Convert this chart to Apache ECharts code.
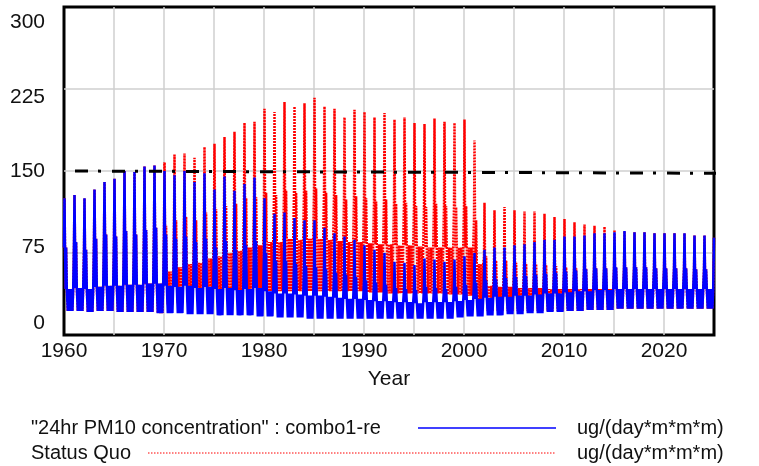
<!DOCTYPE html>
<html>
<head>
<meta charset="utf-8">
<script src="https://cdn.jsdelivr.net/npm/echarts@6/dist/echarts.min.js"></script>
<style>
html,body{margin:0;padding:0;background:#fff;}
#c{width:759px;height:466px;}
</style>
</head>
<body>
<div id="c"></div>
<script>
// ---- data ----
const years = [];
for (let y = 1960; y <= 2024; y++) years.push(y);

const xTickLabels = [1960, 1970, 1980, 1990, 2000, 2010, 2020];
const yTickLabels = [0, 75, 150, 225, 300];

// "24hr PM10 concentration" : combo1-re  (blue)
const bluePeak = [
  125,128,125,133,140,143,150,149,154,155,
  150,146,150,140,148,133,145,132,138,144,
  125,111,112,107,105,105,98,93,90,87,
  82,78,75,67,66,64,70,69,67,69,
  72,75,78,80,80,82,83,85,87,87,
  90,90,91,93,93,94,95,94,94,93,
  93,93,93,91,91];
const blueShoulder = [
  80,85,78,88,92,90,95,92,96,98,
  92,88,90,85,88,80,86,78,82,86,
  75,68,68,65,63,62,60,57,55,53,
  50,48,46,43,42,41,44,43,42,44,
  46,48,50,51,52,53,54,55,56,57,
  58,59,60,61,61,62,62,62,62,61,
  61,61,61,60,60];
const blueMid = [
  42,43,42,44,45,45,46,46,47,47,
  45,44,45,43,44,42,43,41,42,43,
  40,38,38,37,36,36,35,34,33,33,
  32,31,31,30,30,29,30,30,30,31,
  32,33,34,35,35,36,36,37,38,38,
  39,40,40,41,41,42,42,42,42,42,
  42,42,42,42,42];
const blueLow = [
  22,22,21,22,22,21,21,21,21,20,
  20,20,19,19,19,18,18,18,18,17,
  17,16,16,16,15,15,15,15,15,15,
  15,15,15,15,15,15,15,15,15,16,
  17,17,18,18,19,19,20,20,21,21,
  22,22,23,23,23,24,24,24,24,24,
  24,24,24,24,24];
const blueEnd = 89;

// Status Quo (red)
const redPeak = [
  125,128,125,133,140,143,150,149,154,155,
  158,165,166,162,172,175,181,186,194,195,
  207,204,213,209,212,217,209,207,199,206,
  204,199,203,197,199,194,193,198,195,194,
  197,178,121,114,117,114,113,113,111,108,
  106,103,101,100,99,96,95,94,94,93,
  93,93,93,91,91];
const redShoulder = [
  80,85,78,88,92,90,95,92,96,98,
  100,105,108,105,112,115,118,120,125,126,
  130,128,132,130,132,134,130,128,124,127,
  125,122,124,120,121,118,117,120,118,117,
  118,105,72,68,68,66,65,65,64,63,
  62,61,61,61,61,62,62,62,62,61,
  61,61,61,60,60];
const redMid = [
  42,43,42,44,45,45,46,46,47,47,
  58,62,65,66,70,72,75,77,80,82,
  85,85,88,87,88,88,87,86,85,85,
  84,83,83,82,82,81,80,80,80,80,
  80,65,45,44,44,43,43,43,42,42,
  42,42,42,42,42,42,42,42,42,42,
  42,42,42,42,42];
const redLow = [
  22,22,21,22,22,21,21,21,21,20,
  28,29,30,31,32,33,34,35,36,38,
  40,40,40,40,40,40,40,40,40,40,
  39,39,38,38,38,38,38,38,37,37,
  36,30,22,22,22,22,22,22,22,22,
  22,22,23,23,23,24,24,24,24,24,
  24,24,24,24,24];
const redEnd = 89;

// standard (dash-dot) line
const stdYears = [1960, 2029.5];
const stdValues = [150, 147.8];

// timing of the seasonal stages within each year
const yearProfile = [
  [0.00,'S'],[0.05,'P'],[0.10,'S'],[0.16,'M'],[0.21,'S'],[0.28,'M'],
  [0.38,'L'],[0.50,'M'],[0.62,'L'],[0.74,'M'],[0.84,'L'],[0.92,'M']
];

function buildSeries(P, S, M, L, endVal) {
  const pts = [];
  for (let i = 0; i < years.length; i++) {
    const v = {P: P[i], S: S[i], M: M[i], L: L[i]};
    for (const [ph, k] of yearProfile) pts.push([years[i] + ph, v[k]]);
  }
  pts.push([2025, endVal]);
  return pts;
}

const blueData = buildSeries(bluePeak, blueShoulder, blueMid, blueLow, blueEnd);
const redData = buildSeries(redPeak, redShoulder, redMid, redLow, redEnd);
const stdData = stdYears.map((x, i) => [x, stdValues[i]]);

const FONT = '"Liberation Sans", Arial, sans-serif';
const chart = echarts.init(document.getElementById('c'), null, {renderer: 'canvas'});

const yRich = {
  t300: {fontSize: 21, fontFamily: FONT, color: '#111', padding: [30, 0, 0, 0]},
  t225: {fontSize: 21, fontFamily: FONT, color: '#111', padding: [16, 0, 0, 0]},
  t150: {fontSize: 21, fontFamily: FONT, color: '#111'},
  t75:  {fontSize: 21, fontFamily: FONT, color: '#111', padding: [0, 0, 12, 0]},
  t0:   {fontSize: 21, fontFamily: FONT, color: '#111', padding: [0, 0, 24, 0]}
};

chart.setOption({
  animation: false,
  backgroundColor: '#fff',
  grid: {left: 64, right: 45, top: 7, bottom: 131, show: true,
         borderColor: '#000', borderWidth: 3, backgroundColor: 'transparent'},
  xAxis: {
    type: 'value', min: 1960, max: 2025, interval: 5,
    name: 'Year', nameLocation: 'middle', nameGap: 34,
    nameTextStyle: {fontSize: 21, fontFamily: FONT, color: '#111'},
    axisLine: {show: false}, axisTick: {show: false},
    axisLabel: {margin: 6, fontSize: 21, fontFamily: FONT, color: '#111',
      formatter: v => xTickLabels.indexOf(v) >= 0 ? String(v) : ''},
    splitLine: {show: true, showMinLine: false, showMaxLine: false,
      lineStyle: {color: '#cfcfcf', width: 1.5}}
  },
  yAxis: {
    type: 'value', min: 0, max: 300, interval: 75,
    axisLine: {show: false}, axisTick: {show: false},
    axisLabel: {margin: 19, align: 'right',
      formatter: v => yTickLabels.indexOf(v) >= 0 ? '{t' + v + '|' + v + '}' : '',
      rich: yRich},
    splitLine: {show: true, showMinLine: false, showMaxLine: false,
      lineStyle: {color: '#cfcfcf', width: 1.5}}
  },
  series: [
    {name: 'Status Quo', type: 'line', data: redData, showSymbol: false,
     lineStyle: {color: '#ff0000', width: 2.5, type: [2, 1]}, z: 2},
    {name: '"24hr PM10 concentration" : combo1-re', type: 'line', data: blueData, showSymbol: false,
     lineStyle: {color: '#0000ff', width: 2.5}, z: 3},
    {name: 'standard', type: 'line', data: stdData, showSymbol: false, clip: false,
     lineStyle: {color: '#000', width: 3, type: [13, 10, 3, 11], dashOffset: 26, cap: 'butt'}, z: 4}
  ],
  graphic: [
    {type: 'text', left: 31, top: 418, style: {text: '"24hr PM10 concentration" : combo1-re', fontSize: 20, fontFamily: FONT, fill: '#111'}},
    {type: 'line', shape: {x1: 418, y1: 428, x2: 556, y2: 428}, style: {stroke: '#0000ff', lineWidth: 1.5}},
    {type: 'text', left: 577, top: 418, style: {text: 'ug/(day*m*m*m)', fontSize: 20, fontFamily: FONT, fill: '#111'}},
    {type: 'text', left: 31, top: 443, style: {text: 'Status Quo', fontSize: 20, fontFamily: FONT, fill: '#111'}},
    {type: 'line', shape: {x1: 148, y1: 453, x2: 556, y2: 453}, style: {stroke: '#ff0000', lineWidth: 1, lineDash: [1.5, 1.5]}},
    {type: 'text', left: 577, top: 443, style: {text: 'ug/(day*m*m*m)', fontSize: 20, fontFamily: FONT, fill: '#111'}}
  ]
});
</script>
</body>
</html>
